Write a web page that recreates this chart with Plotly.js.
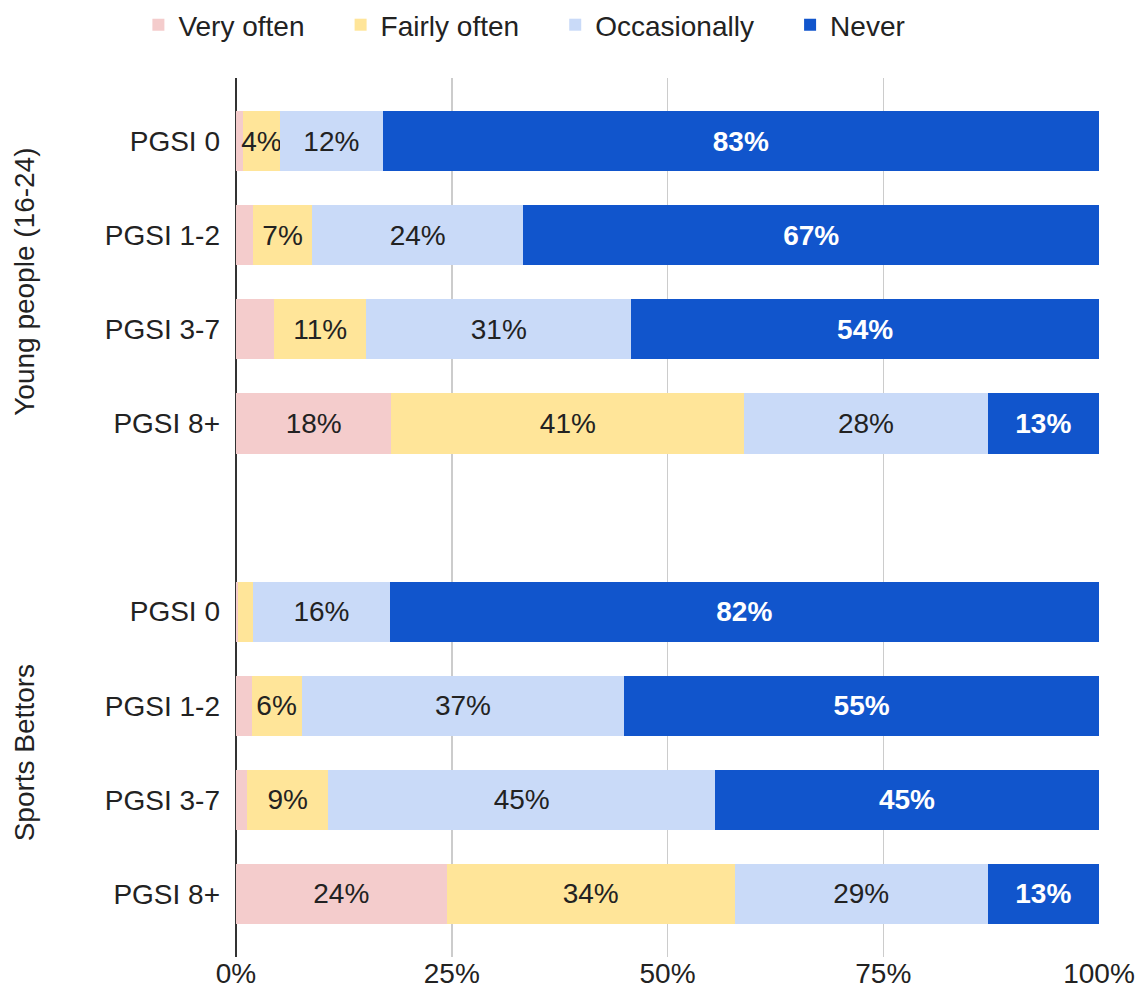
<!DOCTYPE html>
<html>
<head>
<meta charset="utf-8">
<script src="https://cdn.plot.ly/plotly-3.0.1.min.js"></script>
<style>
  html, body { margin: 0; padding: 0; background: #fff; }
  #plot { width: 1140px; height: 997px; }
</style>
</head>
<body>
<div id="plot"></div>
<script>
// groups and rows
let groups = ['Young people (16-24)', 'Sports Bettors'];
let pgsiLabels = ['PGSI 0', 'PGSI 1-2', 'PGSI 3-7', 'PGSI 8+'];

// shares in %, young people rows first, then sports bettors
let veryOften    = [0.8, 2.0, 4.4, 18.0,   0.2, 1.8, 1.3, 24.4];
let fairlyOften  = [4.3, 6.8, 10.7, 40.9,  1.8, 5.8, 9.4, 33.4];
let occasionally = [11.9, 24.5, 30.7, 28.2, 15.8, 37.4, 44.8, 29.3];
let never        = [83.0, 66.7, 54.2, 12.9, 82.2, 55.0, 44.5, 12.9];

// data labels as printed on the bars ('' = no label)
let veryOftenLabels    = ['', '', '', '18%', '', '', '', '24%'];
let fairlyOftenLabels  = ['4%', '7%', '11%', '41%', '', '6%', '9%', '34%'];
let occasionallyLabels = ['12%', '24%', '31%', '28%', '16%', '37%', '45%', '29%'];
let neverLabels        = ['83%', '67%', '54%', '13%', '82%', '55%', '45%', '13%'];

let xTicks = [0, 25, 50, 75, 100];

let font = "Arial, 'Liberation Sans', sans-serif";
let textColor = '#222222';
let fs = 28;
let legendPad = '\u00a0\u00a0\u00a0\u00a0';

// row ids (one blank row between the two groups)
let rows = [];
let categoryOrder = [];
groups.forEach(function (g, gi) {
  if (gi > 0) categoryOrder.push('gap');
  pgsiLabels.forEach(function (p) {
    let id = gi + '|' + p;
    rows.push(id);
    categoryOrder.push(id);
  });
});

function makeTrace(name, values, labels, color, labelFont) {
  return {
    type: 'bar',
    orientation: 'h',
    name: name,
    y: rows,
    x: values,
    text: labels,
    textposition: 'inside',
    insidetextanchor: 'middle',
    constraintext: 'none',
    textangle: 0,
    insidetextfont: labelFont,
    marker: { color: color, line: { width: 0 } },
    hoverinfo: 'x+name'
  };
}

let darkFont = { family: font, size: fs, color: textColor };
let whiteFont = { family: font, size: fs, color: '#ffffff', weight: 'bold' };

let data = [
  makeTrace('Very often' + legendPad, veryOften, veryOftenLabels, '#f4cccc', darkFont),
  makeTrace('Fairly often' + legendPad, fairlyOften, fairlyOftenLabels, '#ffe599', darkFont),
  makeTrace('Occasionally' + legendPad, occasionally, occasionallyLabels, '#c9daf8', darkFont),
  makeTrace('Never', never, neverLabels, '#1155cc', whiteFont)
];

let n = categoryOrder.length;

let layout = {
  width: 1140,
  height: 997,
  barmode: 'stack',
  bargap: 0.36,
  paper_bgcolor: '#ffffff',
  plot_bgcolor: '#ffffff',
  font: { family: font, size: fs, color: textColor },
  margin: { l: 236, r: 41, t: 78, b: 40 },
  showlegend: true,
  legend: {
    orientation: 'h',
    xref: 'container',
    yref: 'container',
    x: 0.46,
    xanchor: 'center',
    y: 1.0,
    yanchor: 'top',
    font: { family: font, size: fs, color: textColor },
    traceorder: 'normal'
  },
  xaxis: {
    range: [0, 100],
    tickvals: xTicks,
    ticktext: xTicks.map(function (t) { return t + '%'; }),
    showgrid: true,
    gridcolor: '#cccccc',
    gridwidth: 1.5,
    zeroline: true,
    zerolinecolor: '#333333',
    zerolinewidth: 2,
    showline: false,
    ticks: '',
    ticklabelstandoff: -3,
    automargin: false,
    tickfont: { family: font, size: fs, color: textColor },
    fixedrange: true
  },
  yaxis: {
    type: 'category',
    categoryorder: 'array',
    categoryarray: categoryOrder,
    range: [n - 1 + 0.67, -0.67],
    tickvals: rows,
    ticktext: rows.map(function (id) { return id.split('|')[1]; }),
    showgrid: false,
    zeroline: false,
    showline: false,
    ticks: '',
    ticklabelstandoff: 15,
    automargin: false,
    tickfont: { family: font, size: fs, color: textColor },
    fixedrange: true
  },
  annotations: groups.map(function (g, gi) {
    let first = categoryOrder.indexOf(gi + '|' + pgsiLabels[0]);
    let last = categoryOrder.indexOf(gi + '|' + pgsiLabels[pgsiLabels.length - 1]);
    return {
      text: g,
      xref: 'paper',
      yref: 'y',
      x: -0.245,
      y: (first + last) / 2,
      textangle: -90,
      showarrow: false,
      xanchor: 'center',
      yanchor: 'middle',
      font: { family: font, size: fs, color: textColor }
    };
  })
};

Plotly.newPlot('plot', data, layout, { displayModeBar: false, staticPlot: true });
</script>
</body>
</html>
